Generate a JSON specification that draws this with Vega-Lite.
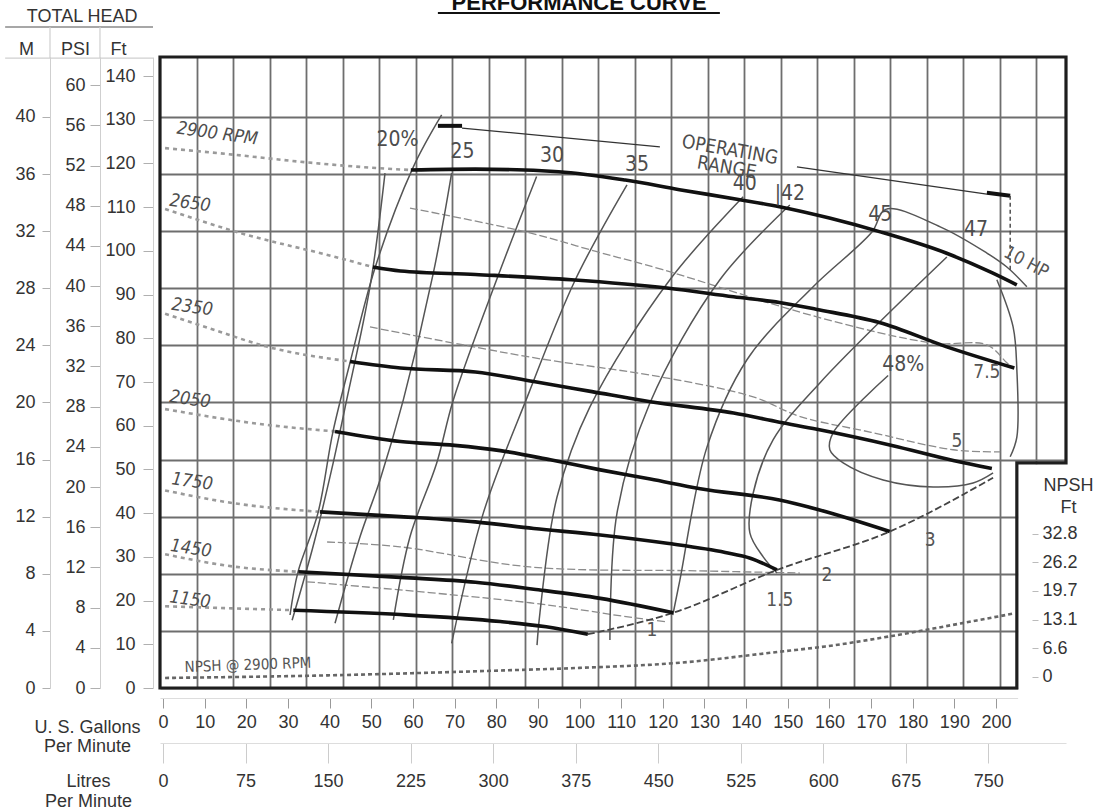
{
  "$schema": "https://vega.github.io/schema/vega-lite/v6.json",
  "width": 906,
  "height": 631,
  "autosize": {"type": "none"},
  "padding": {"left": 160, "top": 57, "right": 31, "bottom": 122},
  "background": "white",
  "config": {
    "view": {"stroke": null},
    "axis": {"labelFont": "Liberation Sans", "titleFont": "Liberation Sans", "labelColor": "#333", "titleColor": "#333", "labelFontSize": 18, "titleFontSize": 18, "titleFontWeight": "normal", "domainColor": "#cfcfcf", "tickColor": "#b0b0b0", "grid": false, "labelFlush": false, "labelOverlap": false}
  },
  "datasets": {
    "curves": [
      {"s":"frame","k":"frame","g":-0.72,"f":144.35,"o":0},{"s":"frame","k":"frame","g":216.8,"f":144.35,"o":1},{"s":"frame","k":"frame","g":216.8,"f":51.5,"o":2},{"s":"frame","k":"frame","g":205.0,"f":51.5,"o":3},{"s":"frame","k":"frame","g":205.0,"f":0,"o":4},{"s":"frame","k":"frame","g":-0.72,"f":0,"o":5},{"s":"frame","k":"frame","g":-0.72,"f":144.35,"o":6},
      {"s":"h2900","k":"head","g":59.5,"f":118.5,"o":0},{"s":"h2900","k":"head","g":75,"f":118.7,"o":1},{"s":"h2900","k":"head","g":95,"f":118.1,"o":2},{"s":"h2900","k":"head","g":111,"f":116.2,"o":3},{"s":"h2900","k":"head","g":124,"f":114.0,"o":4},{"s":"h2900","k":"head","g":138.5,"f":111.7,"o":5},{"s":"h2900","k":"head","g":148,"f":110.1,"o":6},{"s":"h2900","k":"head","g":160,"f":107.5,"o":7},{"s":"h2900","k":"head","g":172,"f":104.4,"o":8},{"s":"h2900","k":"head","g":188,"f":99.5,"o":9},{"s":"h2900","k":"head","g":199,"f":95.0,"o":10},{"s":"h2900","k":"head","g":205,"f":92.2,"o":11},
      {"s":"h2650","k":"head","g":50.4,"f":96.3,"o":0},{"s":"h2650","k":"head","g":57,"f":95.4,"o":1},{"s":"h2650","k":"head","g":75,"f":94.6,"o":2},{"s":"h2650","k":"head","g":98,"f":93.4,"o":3},{"s":"h2650","k":"head","g":121,"f":91.5,"o":4},{"s":"h2650","k":"head","g":137,"f":89.5,"o":5},{"s":"h2650","k":"head","g":148,"f":88.2,"o":6},{"s":"h2650","k":"head","g":157,"f":86.6,"o":7},{"s":"h2650","k":"head","g":172,"f":83.6,"o":8},{"s":"h2650","k":"head","g":188,"f":78.1,"o":9},{"s":"h2650","k":"head","g":204.4,"f":73.2,"o":10},
      {"s":"h2350","k":"head","g":44.9,"f":74.7,"o":0},{"s":"h2350","k":"head","g":57,"f":73.2,"o":1},{"s":"h2350","k":"head","g":75,"f":72.3,"o":2},{"s":"h2350","k":"head","g":89,"f":70.1,"o":3},{"s":"h2350","k":"head","g":103,"f":67.8,"o":4},{"s":"h2350","k":"head","g":117,"f":65.5,"o":5},{"s":"h2350","k":"head","g":137,"f":62.9,"o":6},{"s":"h2350","k":"head","g":148,"f":60.8,"o":7},{"s":"h2350","k":"head","g":157,"f":59.2,"o":8},{"s":"h2350","k":"head","g":175,"f":55.5,"o":9},{"s":"h2350","k":"head","g":190,"f":52.0,"o":10},{"s":"h2350","k":"head","g":199,"f":50.2,"o":11},
      {"s":"h2050","k":"head","g":41.3,"f":58.7,"o":0},{"s":"h2050","k":"head","g":57,"f":56.4,"o":1},{"s":"h2050","k":"head","g":70,"f":55.5,"o":2},{"s":"h2050","k":"head","g":81,"f":54.3,"o":3},{"s":"h2050","k":"head","g":93,"f":52.2,"o":4},{"s":"h2050","k":"head","g":105,"f":49.9,"o":5},{"s":"h2050","k":"head","g":117,"f":47.8,"o":6},{"s":"h2050","k":"head","g":129,"f":45.6,"o":7},{"s":"h2050","k":"head","g":148,"f":43.0,"o":8},{"s":"h2050","k":"head","g":157,"f":40.9,"o":9},{"s":"h2050","k":"head","g":174.5,"f":35.8,"o":10},
      {"s":"h1750","k":"head","g":37.7,"f":40.3,"o":0},{"s":"h1750","k":"head","g":57,"f":39.2,"o":1},{"s":"h1750","k":"head","g":75,"f":38.0,"o":2},{"s":"h1750","k":"head","g":89,"f":36.5,"o":3},{"s":"h1750","k":"head","g":105,"f":35.0,"o":4},{"s":"h1750","k":"head","g":121,"f":33.1,"o":5},{"s":"h1750","k":"head","g":135,"f":31.0,"o":6},{"s":"h1750","k":"head","g":141,"f":29.7,"o":7},{"s":"h1750","k":"head","g":147.4,"f":27.0,"o":8},
      {"s":"h1450","k":"head","g":32.5,"f":26.6,"o":0},{"s":"h1450","k":"head","g":57,"f":25.3,"o":1},{"s":"h1450","k":"head","g":75,"f":24.2,"o":2},{"s":"h1450","k":"head","g":89,"f":22.6,"o":3},{"s":"h1450","k":"head","g":105,"f":20.5,"o":4},{"s":"h1450","k":"head","g":122.5,"f":17.2,"o":5},
      {"s":"h1150","k":"head","g":31.3,"f":17.8,"o":0},{"s":"h1150","k":"head","g":57,"f":16.8,"o":1},{"s":"h1150","k":"head","g":81,"f":15.2,"o":2},{"s":"h1150","k":"head","g":92,"f":14.0,"o":3},{"s":"h1150","k":"head","g":102,"f":12.3,"o":4},
      {"s":"r2900","k":"rpm","g":0.5,"f":123.5,"o":0},{"s":"r2900","k":"rpm","g":17,"f":122.0,"o":1},{"s":"r2900","k":"rpm","g":35,"f":120.2,"o":2},{"s":"r2900","k":"rpm","g":52,"f":118.9,"o":3},{"s":"r2900","k":"rpm","g":59.5,"f":118.5,"o":4},
      {"s":"r2650","k":"rpm","g":0.5,"f":109.6,"o":0},{"s":"r2650","k":"rpm","g":18.5,"f":104.1,"o":1},{"s":"r2650","k":"rpm","g":41,"f":98.7,"o":2},{"s":"r2650","k":"rpm","g":50.4,"f":96.3,"o":3},
      {"s":"r2350","k":"rpm","g":0.5,"f":85.6,"o":0},{"s":"r2350","k":"rpm","g":12,"f":82.0,"o":1},{"s":"r2350","k":"rpm","g":24.9,"f":78.1,"o":2},{"s":"r2350","k":"rpm","g":44.9,"f":74.7,"o":3},
      {"s":"r2050","k":"rpm","g":0.5,"f":63.8,"o":0},{"s":"r2050","k":"rpm","g":24.9,"f":60.2,"o":1},{"s":"r2050","k":"rpm","g":41.3,"f":58.7,"o":2},
      {"s":"r1750","k":"rpm","g":0.5,"f":45.2,"o":0},{"s":"r1750","k":"rpm","g":16.8,"f":42.3,"o":1},{"s":"r1750","k":"rpm","g":37.7,"f":40.3,"o":2},
      {"s":"r1450","k":"rpm","g":0.5,"f":30.6,"o":0},{"s":"r1450","k":"rpm","g":16.8,"f":27.8,"o":1},{"s":"r1450","k":"rpm","g":32.5,"f":26.6,"o":2},
      {"s":"r1150","k":"rpm","g":0.5,"f":18.7,"o":0},{"s":"r1150","k":"rpm","g":31.3,"f":17.8,"o":1},
      {"s":"npsh","k":"npsh","g":0.5,"f":2.3,"o":0},{"s":"npsh","k":"npsh","g":40,"f":2.9,"o":1},{"s":"npsh","k":"npsh","g":81,"f":4.0,"o":2},{"s":"npsh","k":"npsh","g":100,"f":4.6,"o":3},{"s":"npsh","k":"npsh","g":123,"f":5.7,"o":4},{"s":"npsh","k":"npsh","g":148,"f":8.3,"o":5},{"s":"npsh","k":"npsh","g":159,"f":9.5,"o":6},{"s":"npsh","k":"npsh","g":175,"f":11.9,"o":7},{"s":"npsh","k":"npsh","g":190,"f":14.5,"o":8},{"s":"npsh","k":"npsh","g":204,"f":17.0,"o":9},
      {"s":"bnd","k":"boundary","g":102,"f":12.3,"o":0},{"s":"bnd","k":"boundary","g":122.5,"f":17.2,"o":1},{"s":"bnd","k":"boundary","g":147.4,"f":27.0,"o":2},{"s":"bnd","k":"boundary","g":174.5,"f":35.8,"o":3},{"s":"bnd","k":"boundary","g":199.3,"f":48.1,"o":4},
      {"s":"e20","k":"eff","g":66.9,"f":131.1,"o":0},{"s":"e20","k":"eff","g":60.0,"f":119.0,"o":1},{"s":"e20","k":"eff","g":50.9,"f":96.1,"o":2},{"s":"e20","k":"eff","g":44.9,"f":74.4,"o":3},{"s":"e20","k":"eff","g":40.8,"f":58.6,"o":4},{"s":"e20","k":"eff","g":37.2,"f":40.0,"o":5},{"s":"e20","k":"eff","g":32.4,"f":26.5,"o":6},{"s":"e20","k":"eff","g":30.5,"f":16.7,"o":7},
      {"s":"e20b","k":"eff","g":53.3,"f":117.8,"o":0},{"s":"e20b","k":"eff","g":49.7,"f":91.8,"o":1},{"s":"e20b","k":"eff","g":44.1,"f":65.9,"o":2},{"s":"e20b","k":"eff","g":40.5,"f":50.0,"o":3},{"s":"e20b","k":"eff","g":36.2,"f":33.0,"o":4},{"s":"e20b","k":"eff","g":31.0,"f":15.5,"o":5},
      {"s":"e25","k":"eff","g":69.3,"f":117.8,"o":0},{"s":"e25","k":"eff","g":64.9,"f":94.9,"o":1},{"s":"e25","k":"eff","g":57.7,"f":65.9,"o":2},{"s":"e25","k":"eff","g":52.1,"f":47.6,"o":3},{"s":"e25","k":"eff","g":47.3,"f":34.6,"o":4},{"s":"e25","k":"eff","g":41.3,"f":14.8,"o":5},
      {"s":"e30","k":"eff","g":89.7,"f":117.0,"o":0},{"s":"e30","k":"eff","g":80.1,"f":93.4,"o":1},{"s":"e30","k":"eff","g":69.7,"f":65.9,"o":2},{"s":"e30","k":"eff","g":65.7,"f":51.4,"o":3},{"s":"e30","k":"eff","g":59.3,"f":34.6,"o":4},{"s":"e30","k":"eff","g":55.3,"f":15.6,"o":5},
      {"s":"e35","k":"eff","g":111.4,"f":115.1,"o":0},{"s":"e35","k":"eff","g":99.0,"f":93.4,"o":1},{"s":"e35","k":"eff","g":87.8,"f":67.4,"o":2},{"s":"e35","k":"eff","g":76.9,"f":40.0,"o":3},{"s":"e35","k":"eff","g":69.3,"f":10.2,"o":4},
      {"s":"e40","k":"eff","g":139.3,"f":112.4,"o":0},{"s":"e40","k":"eff","g":121.7,"f":93.4,"o":1},{"s":"e40","k":"eff","g":102.5,"f":64.3,"o":2},{"s":"e40","k":"eff","g":94.6,"f":43.7,"o":3},{"s":"e40","k":"eff","g":90.5,"f":17.2,"o":4},{"s":"e40","k":"eff","g":89.8,"f":9.8,"o":5},
      {"s":"e42","k":"eff","g":150.5,"f":110.5,"o":0},{"s":"e42","k":"eff","g":133.7,"f":93.4,"o":1},{"s":"e42","k":"eff","g":116.9,"f":65.2,"o":2},{"s":"e42","k":"eff","g":109.0,"f":40.0,"o":3},{"s":"e42","k":"eff","g":107.3,"f":11.0,"o":4},
      {"s":"e45","k":"eff","g":122.4,"f":16.7,"o":0},{"s":"e45","k":"eff","g":124.1,"f":24.7,"o":1},{"s":"e45","k":"eff","g":130.6,"f":55.1,"o":2},{"s":"e45","k":"eff","g":140.2,"f":75.1,"o":3},{"s":"e45","k":"eff","g":156.1,"f":91.8,"o":4},{"s":"e45","k":"eff","g":170.2,"f":104.3,"o":5},{"s":"e45","k":"eff","g":173.5,"f":109.5,"o":6},{"s":"e45","k":"eff","g":186.6,"f":105.5,"o":7},{"s":"e45","k":"eff","g":197.8,"f":99.5,"o":8},{"s":"e45","k":"eff","g":202.6,"f":96.3,"o":9},{"s":"e45","k":"eff","g":207.4,"f":91.8,"o":10},
      {"s":"e45b","k":"eff","g":200.2,"f":93.4,"o":0},{"s":"e45b","k":"eff","g":204.1,"f":82.6,"o":1},{"s":"e45b","k":"eff","g":205.0,"f":72.8,"o":2},{"s":"e45b","k":"eff","g":205.0,"f":57.4,"o":3},{"s":"e45b","k":"eff","g":203.4,"f":52.9,"o":4},
      {"s":"e47","k":"eff","g":188.2,"f":98.6,"o":0},{"s":"e47","k":"eff","g":157.7,"f":69.8,"o":1},{"s":"e47","k":"eff","g":146.5,"f":56.8,"o":2},{"s":"e47","k":"eff","g":141.7,"f":44.6,"o":3},{"s":"e47","k":"eff","g":140.9,"f":35.5,"o":4},{"s":"e47","k":"eff","g":144.1,"f":30.0,"o":5},{"s":"e47","k":"eff","g":147.4,"f":26.3,"o":6},
      {"s":"e48","k":"eff","g":174.1,"f":71.5,"o":0},{"s":"e48","k":"eff","g":160.9,"f":58.4,"o":1},{"s":"e48","k":"eff","g":160.1,"f":54.5,"o":2},{"s":"e48","k":"eff","g":163.3,"f":51.5,"o":3},{"s":"e48","k":"eff","g":172.9,"f":47.6,"o":4},{"s":"e48","k":"eff","g":184.9,"f":46.0,"o":5},{"s":"e48","k":"eff","g":194.5,"f":46.9,"o":6},{"s":"e48","k":"eff","g":199.3,"f":49.2,"o":7},
      {"s":"p75","k":"power","g":59.3,"f":109.8,"o":0},{"s":"p75","k":"power","g":88.1,"f":104.1,"o":1},{"s":"p75","k":"power","g":104.2,"f":99.8,"o":2},{"s":"p75","k":"power","g":120.0,"f":95.7,"o":3},{"s":"p75","k":"power","g":157.0,"f":84.9,"o":4},{"s":"p75","k":"power","g":184.9,"f":78.9,"o":5},{"s":"p75","k":"power","g":197.8,"f":78.5,"o":6},{"s":"p75","k":"power","g":202.6,"f":74.4,"o":7},{"s":"p75","k":"power","g":204.1,"f":73.2,"o":8},
      {"s":"p5","k":"power","g":49.7,"f":82.6,"o":0},{"s":"p5","k":"power","g":88.1,"f":75.7,"o":1},{"s":"p5","k":"power","g":119.3,"f":71.2,"o":2},{"s":"p5","k":"power","g":141.7,"f":66.6,"o":3},{"s":"p5","k":"power","g":153.0,"f":62.1,"o":4},{"s":"p5","k":"power","g":170.0,"f":58.5,"o":5},{"s":"p5","k":"power","g":189.7,"f":54.5,"o":6},{"s":"p5","k":"power","g":201.0,"f":54.0,"o":7},
      {"s":"p2","k":"power","g":39.4,"f":33.4,"o":0},{"s":"p2","k":"power","g":56.9,"f":32.3,"o":1},{"s":"p2","k":"power","g":88.1,"f":27.7,"o":2},{"s":"p2","k":"power","g":128.9,"f":26.8,"o":3},{"s":"p2","k":"power","g":152.9,"f":26.3,"o":4},
      {"s":"p1","k":"power","g":34.6,"f":24.3,"o":0},{"s":"p1","k":"power","g":88.1,"f":19.5,"o":1},{"s":"p1","k":"power","g":112.1,"f":16.2,"o":2},{"s":"p1","k":"power","g":121.2,"f":15.1,"o":3},
      {"s":"rl","k":"range","g":71.8,"f":128.1,"o":0},{"s":"rl","k":"range","g":119.3,"f":123.8,"o":1},
      {"s":"rr","k":"range","g":152.2,"f":119.2,"o":0},{"s":"rr","k":"range","g":197.8,"f":113.0,"o":1},
      {"s":"re1","k":"rangeEnd","g":66.0,"f":128.6,"o":0},{"s":"re1","k":"rangeEnd","g":71.8,"f":128.6,"o":1},
      {"s":"re2","k":"rangeEnd","g":197.8,"f":113.3,"o":0},{"s":"re2","k":"rangeEnd","g":203.4,"f":112.6,"o":1},
      {"s":"rd","k":"rangeDrop","g":203.4,"f":112.6,"o":0},{"s":"rd","k":"rangeDrop","g":203.4,"f":95.7,"o":1}
    ],
    "labels": [
      {"t":"2900 RPM","g":13.0,"f":126.7,"grp":"rpm"},
      {"t":"2650","g":6.5,"f":110.8,"grp":"rpm"},
      {"t":"2350","g":7.0,"f":87.0,"grp":"rpm"},
      {"t":"2050","g":6.5,"f":65.9,"grp":"rpm"},
      {"t":"1750","g":7.0,"f":47.1,"grp":"rpm"},
      {"t":"1450","g":6.7,"f":31.8,"grp":"rpm"},
      {"t":"1150","g":6.5,"f":20.1,"grp":"rpm"},
      {"t":"20%","g":56.3,"f":125.4,"grp":"eff"},
      {"t":"25","g":71.9,"f":122.7,"grp":"eff"},
      {"t":"30","g":93.4,"f":121.7,"grp":"eff"},
      {"t":"35","g":113.8,"f":119.7,"grp":"eff"},
      {"t":"40","g":139.7,"f":115.3,"grp":"eff"},
      {"t":"|42","g":150.5,"f":113.0,"grp":"eff"},
      {"t":"45","g":172.2,"f":108.2,"grp":"eff"},
      {"t":"47","g":195.2,"f":104.8,"grp":"eff"},
      {"t":"48%","g":177.7,"f":73.9,"grp":"eff"},
      {"t":"7.5","g":197.8,"f":72.3,"grp":"pow"},
      {"t":"5","g":190.6,"f":56.5,"grp":"pow"},
      {"t":"3","g":184.2,"f":33.9,"grp":"pow"},
      {"t":"2","g":159.4,"f":25.9,"grp":"pow"},
      {"t":"1.5","g":148.1,"f":20.1,"grp":"pow"},
      {"t":"1","g":117.4,"f":13.3,"grp":"pow"},
      {"t":"10 HP","g":207.2,"f":97.3,"grp":"hp"},
      {"t":"OPERATING\nRANGE","g":136.1,"f":123.1,"grp":"op"},
      {"t":"NPSH @ 2900 RPM","g":20.4,"f":5.3,"grp":"npsh"},
      {"t":"PERFORMANCE CURVE","g":99.9,"f":155.1,"grp":"title"},
      {"t":"TOTAL HEAD","g":-19.4,"f":153.5,"grp":"head"}
    ],
    "rules": [
      {"g":-37.9,"g2":-2.4,"f":151.2,"f2":151.2,"k":"hdr"},
      {"g":-37.9,"g2":-2.4,"f":144.1,"f2":144.1,"k":"hdr2"},
      {"g":-27.13,"g2":-27.13,"f":144.1,"f2":151.2,"k":"hdr2"},
      {"g":-15.13,"g2":-15.13,"f":144.1,"f2":151.2,"k":"hdr2"},
      {"g":66.0,"g2":133.7,"f":154.4,"f2":154.4,"k":"ttl"}
    ],
    "notch": [{"g":205.3,"g2":221,"f":-3,"f2":51.2}]
  },
  "layer": [
    {
      "data": {"values": [{"q": 0}]},
      "mark": {"type": "point", "opacity": 0},
      "encoding": {
        "x": {"field": "q", "type": "quantitative", "scale": {"domain": [0, 49.64], "nice": false, "zero": false},
          "axis": {"orient": "bottom", "values": [2,4,6,8,10,12,14,16,18,20,22,24,26,28,30,32,34,36,38,40,42,44,46,48], "labels": false, "ticks": false, "domain": false, "grid": true, "gridColor": "#6e6e6e", "gridWidth": 1.8, "title": null}}
      }
    },
    {
      "data": {"values": [{"m": 0}]},
      "mark": {"type": "point", "opacity": 0},
      "encoding": {
        "y": {"field": "m", "type": "quantitative", "scale": {"domain": [0, 44.2], "nice": false, "zero": false},
          "axis": {"orient": "left", "offset": 110, "values": [0,4,8,12,16,20,24,28,32,36,40], "tickSize": 8, "labelPadding": 7, "grid": true, "gridColor": "#6e6e6e", "gridWidth": 1.8, "title": "M", "titleAngle": 0, "titleAlign": "center", "titleBaseline": "alphabetic", "titleX": -24, "titleY": -3}}
      }
    },
    {
      "data": {"values": [{"p": 0}]},
      "mark": {"type": "point", "opacity": 0},
      "encoding": {
        "y": {"field": "p", "type": "quantitative", "scale": {"domain": [0, 62.8], "nice": false, "zero": false},
          "axis": {"orient": "left", "offset": 60, "values": [0,4,8,12,16,20,24,28,32,36,40,44,48,52,56,60], "tickSize": 10, "labelPadding": 5, "title": "PSI", "titleAngle": 0, "titleAlign": "center", "titleBaseline": "alphabetic", "titleX": -25, "titleY": -3}}
      }
    },
    {
      "data": {"values": [{"n": 0}]},
      "mark": {"type": "point", "opacity": 0},
      "encoding": {
        "y": {"field": "n", "type": "quantitative", "scale": {"domain": [-2.52, 141.83], "nice": false, "zero": false},
          "axis": {"orient": "right", "offset": -34, "values": [0, 6.6, 13.1, 19.7, 26.2, 32.8], "labelExpr": "'' + datum.value", "domain": false, "tickSize": 6, "labelPadding": 4, "tickColor": "#bbbbbb", "title": ["NPSH", "Ft"], "titleAngle": 0, "titleAlign": "center", "titleBaseline": "alphabetic", "titleX": 36, "titleY": 433, "titleLineHeight": 22, "zindex": 1}}
      }
    },
    {
      "data": {"values": [{"l": 0}]},
      "mark": {"type": "point", "opacity": 0},
      "encoding": {
        "x": {"field": "l", "type": "quantitative", "scale": {"domain": [-2.73, 820.6], "nice": false, "zero": false},
          "axis": {"orient": "bottom", "offset": 55, "values": [0,75,150,225,300,375,450,525,600,675,750], "tickSize": 20, "labelPadding": 9, "tickColor": "#cccccc", "domainColor": "#dddddd", "title": ["Litres", "Per Minute"], "titleAngle": 0, "titleAlign": "center", "titleBaseline": "alphabetic", "titleX": -72, "titleY": 43, "titleLineHeight": 20}}
      }
    },
    {
      "encoding": {
        "x": {"field": "g", "type": "quantitative", "scale": {"domain": [-0.72, 216.8], "nice": false, "zero": false},
          "axis": {"orient": "bottom", "offset": 10, "values": [0,10,20,30,40,50,60,70,80,90,100,110,120,130,140,150,160,170,180,190,200], "tickSize": 10, "labelPadding": 5, "tickColor": "#999999", "domainColor": "#dddddd", "title": ["U. S. Gallons", "Per Minute"], "titleAngle": 0, "titleAlign": "center", "titleBaseline": "alphabetic", "titleX": -73, "titleY": 34, "titleLineHeight": 19}},
        "y": {"field": "f", "type": "quantitative", "scale": {"domain": [0, 144.35], "nice": false, "zero": false},
          "axis": {"orient": "left", "offset": 7, "values": [0,10,20,30,40,50,60,70,80,90,100,110,120,130,140], "tickSize": 10, "labelPadding": 8, "title": "Ft", "titleAngle": 0, "titleAlign": "center", "titleBaseline": "alphabetic", "titleX": -35, "titleY": -3}}
      },
      "layer": [
        {
          "data": {"name": "notch"},
          "mark": {"type": "rect", "fill": "white"},
          "encoding": {"x2": {"field": "g2"}, "y2": {"field": "f2"}}
        },
        {
          "data": {"name": "curves"},
          "transform": [{"filter": "datum.k === 'rpm'"}],
          "mark": {"type": "line", "stroke": "#9a9a9a", "strokeWidth": 2.6, "strokeDash": [4, 4], "interpolate": "monotone"},
          "encoding": {"detail": {"field": "s"}, "order": {"field": "o", "type": "quantitative"}}
        },
        {
          "data": {"name": "curves"},
          "transform": [{"filter": "datum.k === 'npsh'"}],
          "mark": {"type": "line", "stroke": "#666666", "strokeWidth": 2.6, "strokeDash": [4, 3], "interpolate": "monotone"},
          "encoding": {"detail": {"field": "s"}, "order": {"field": "o", "type": "quantitative"}}
        },
        {
          "data": {"name": "curves"},
          "transform": [{"filter": "datum.k === 'power'"}],
          "mark": {"type": "line", "stroke": "#8c8c8c", "strokeWidth": 1.3, "strokeDash": [8, 3], "interpolate": "catmull-rom"},
          "encoding": {"detail": {"field": "s"}, "order": {"field": "o", "type": "quantitative"}}
        },
        {
          "data": {"name": "curves"},
          "transform": [{"filter": "datum.k === 'eff'"}],
          "mark": {"type": "line", "stroke": "#555555", "strokeWidth": 1.5, "interpolate": "catmull-rom"},
          "encoding": {"detail": {"field": "s"}, "order": {"field": "o", "type": "quantitative"}}
        },
        {
          "data": {"name": "curves"},
          "transform": [{"filter": "datum.k === 'boundary'"}],
          "mark": {"type": "line", "stroke": "#444444", "strokeWidth": 1.8, "strokeDash": [7, 3], "interpolate": "monotone"},
          "encoding": {"detail": {"field": "s"}, "order": {"field": "o", "type": "quantitative"}}
        },
        {
          "data": {"name": "curves"},
          "transform": [{"filter": "datum.k === 'range'"}],
          "mark": {"type": "line", "stroke": "#333333", "strokeWidth": 1.3},
          "encoding": {"detail": {"field": "s"}, "order": {"field": "o", "type": "quantitative"}}
        },
        {
          "data": {"name": "curves"},
          "transform": [{"filter": "datum.k === 'rangeEnd'"}],
          "mark": {"type": "line", "stroke": "#111111", "strokeWidth": 4},
          "encoding": {"detail": {"field": "s"}, "order": {"field": "o", "type": "quantitative"}}
        },
        {
          "data": {"name": "curves"},
          "transform": [{"filter": "datum.k === 'rangeDrop'"}],
          "mark": {"type": "line", "stroke": "#444444", "strokeWidth": 1.4, "strokeDash": [4, 3]},
          "encoding": {"detail": {"field": "s"}, "order": {"field": "o", "type": "quantitative"}}
        },
        {
          "data": {"name": "curves"},
          "transform": [{"filter": "datum.k === 'head'"}],
          "mark": {"type": "line", "stroke": "#111111", "strokeWidth": 3.6, "interpolate": "monotone"},
          "encoding": {"detail": {"field": "s"}, "order": {"field": "o", "type": "quantitative"}}
        },
        {
          "data": {"name": "curves"},
          "transform": [{"filter": "datum.k === 'frame'"}],
          "mark": {"type": "line", "stroke": "#1e1e1e", "strokeWidth": 3.2, "strokeCap": "square", "strokeJoin": "miter"},
          "encoding": {"detail": {"field": "s"}, "order": {"field": "o", "type": "quantitative"}}
        },
        {
          "data": {"name": "rules"},
          "transform": [{"filter": "datum.k === 'hdr'"}],
          "mark": {"type": "rule", "stroke": "#8a8a8a", "strokeWidth": 1.5},
          "encoding": {"x2": {"field": "g2"}, "y2": {"field": "f2"}}
        },
        {
          "data": {"name": "rules"},
          "transform": [{"filter": "datum.k === 'hdr2'"}],
          "mark": {"type": "rule", "stroke": "#cfcfcf", "strokeWidth": 1.2},
          "encoding": {"x2": {"field": "g2"}, "y2": {"field": "f2"}}
        },
        {
          "data": {"name": "rules"},
          "transform": [{"filter": "datum.k === 'ttl'"}],
          "mark": {"type": "rule", "stroke": "#111111", "strokeWidth": 2},
          "encoding": {"x2": {"field": "g2"}, "y2": {"field": "f2"}}
        },
        {
          "data": {"name": "labels"},
          "transform": [{"filter": "datum.grp === 'rpm'"}],
          "mark": {"type": "text", "font": "DejaVu Sans Condensed", "fontSize": 18, "fontStyle": "italic", "fill": "#4d4d4d", "angle": 8, "align": "center", "baseline": "middle"},
          "encoding": {"text": {"field": "t"}}
        },
        {
          "data": {"name": "labels"},
          "transform": [{"filter": "datum.grp === 'eff'"}],
          "mark": {"type": "text", "font": "DejaVu Sans Condensed", "fontSize": 21, "fill": "#4d4d4d", "align": "center", "baseline": "middle"},
          "encoding": {"text": {"field": "t"}}
        },
        {
          "data": {"name": "labels"},
          "transform": [{"filter": "datum.grp === 'pow'"}],
          "mark": {"type": "text", "font": "DejaVu Sans Condensed", "fontSize": 19, "fill": "#555555", "align": "center", "baseline": "middle"},
          "encoding": {"text": {"field": "t"}}
        },
        {
          "data": {"name": "labels"},
          "transform": [{"filter": "datum.grp === 'hp'"}],
          "mark": {"type": "text", "font": "DejaVu Sans Condensed", "fontSize": 18, "fill": "#555555", "angle": 28, "align": "center", "baseline": "middle"},
          "encoding": {"text": {"field": "t"}}
        },
        {
          "data": {"name": "labels"},
          "transform": [{"filter": "datum.grp === 'op'"}],
          "mark": {"type": "text", "font": "DejaVu Sans Condensed", "fontSize": 19, "fill": "#4d4d4d", "angle": 10, "align": "center", "baseline": "middle", "lineBreak": "\n", "lineHeight": 18},
          "encoding": {"text": {"field": "t"}}
        },
        {
          "data": {"name": "labels"},
          "transform": [{"filter": "datum.grp === 'npsh'"}],
          "mark": {"type": "text", "font": "DejaVu Sans Condensed", "fontSize": 15, "fill": "#555555", "angle": -2, "align": "center", "baseline": "middle"},
          "encoding": {"text": {"field": "t"}}
        },
        {
          "data": {"name": "labels"},
          "transform": [{"filter": "datum.grp === 'title'"}],
          "mark": {"type": "text", "font": "Liberation Sans", "fontSize": 22, "fontWeight": "bold", "fill": "#111111", "align": "center", "baseline": "alphabetic"},
          "encoding": {"text": {"field": "t"}}
        },
        {
          "data": {"name": "labels"},
          "transform": [{"filter": "datum.grp === 'head'"}],
          "mark": {"type": "text", "font": "Liberation Sans", "fontSize": 18, "fill": "#333333", "align": "center", "baseline": "middle"},
          "encoding": {"text": {"field": "t"}}
        }
      ]
    }
  ],
  "resolve": {"scale": {"x": "independent", "y": "independent"}, "axis": {"x": "independent", "y": "independent"}}
}
